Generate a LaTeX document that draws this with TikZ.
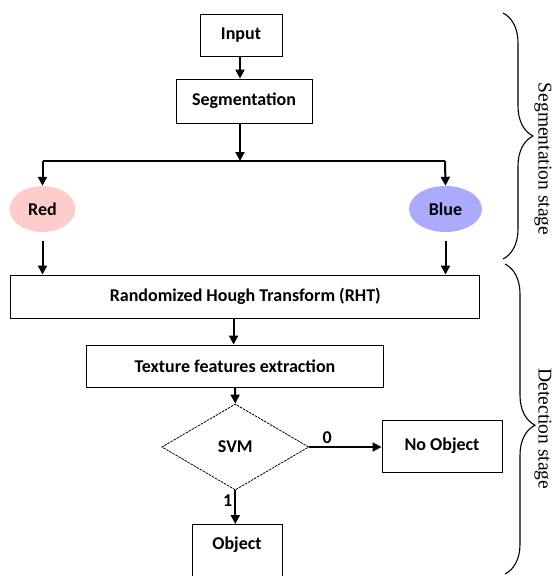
\documentclass[tikz,border=0pt]{standalone}
\usepackage{fontspec}
\setmainfont{Liberation Serif}
\newfontfamily\boxfont{Carlito}
\usetikzlibrary{shapes.geometric,arrows.meta,decorations.pathreplacing}
\begin{document}
\begin{tikzpicture}[x=1pt,y=-1pt]
	% formatos
	\tikzstyle{block} = [draw, line width=0.9pt, inner sep=0pt, font=\boxfont\bfseries\fontsize{18}{21}\selectfont]
	\tikzstyle{blob} = [ellipse, inner sep=0pt, minimum width=66pt, minimum height=46pt, font=\boxfont\bfseries\fontsize{18}{21}\selectfont]
	\tikzstyle{decision} = [diamond, draw, line width=0.8pt, dash pattern=on 2.5pt off 1pt, inner sep=0pt, aspect=1.7, minimum width=147pt, minimum height=86pt, font=\boxfont\bfseries\fontsize{18}{21}\selectfont]
	\tikzstyle{flow} = [-{Triangle[length=9pt,width=9pt]}, line width=2pt]
	\tikzstyle{tag} = [font=\boxfont\bfseries\fontsize{18}{21}\selectfont, inner sep=2pt]
	\tikzstyle{stagebrace} = [decorate, decoration={brace, amplitude=30pt}, line width=1.1pt]
	\tikzstyle{stagelabel} = [rotate=-90, inner sep=0pt, font=\fontsize{19.5}{23}\selectfont]
	\useasboundingbox (0,0) rectangle (555,576);
	% nodos
	\node [block, minimum width=82pt, minimum height=42pt] (input) at (241,35) {Input};
	\node [block, minimum width=136pt, minimum height=44pt] (seg) at (244,101) {Segmentation};
	\coordinate (split) at (240,161);
	\coordinate (splitL) at (42.5,161);
	\coordinate (splitR) at (445,161);
	\node [blob, fill={rgb,255:red,255;green,204;blue,204}] (red) at (42.5,209) {Red};
	\node [blob, fill={rgb,255:red,170;green,170;blue,255}, minimum width=73pt] (blue) at (445.5,209) {Blue};
	\node [block, minimum width=469pt, minimum height=43pt] (rht) at (245.3,296.5) {Randomized Hough Transform (RHT)};
	\node [block, minimum width=297pt, minimum height=42pt] (tex) at (235,366) {Texture features extraction};
	\node [decision] (svm) at (235.3,447) {SVM};
	\node [block, minimum width=120pt, minimum height=52pt] (noobj) at (442,446) {No Object};
	\node [block, minimum width=90pt, anchor=north, inner ysep=12pt, text depth=40pt] (obj) at (237,524) {Object};
	% relaciones
	\draw [flow] (input.south -| split) -- (split |- seg.north);
	\draw [flow] (seg.south -| split) -- (split);
	\draw [line width=1.6pt] (splitL) -- (splitR);
	\draw [flow] (splitL) -- (red.north);
	\draw [flow] (splitR) -- (blue.north);
	\draw [flow, shorten <=9pt] (red.south) -- (red.south |- rht.north);
	\draw [flow, shorten <=9pt] (blue.south) -- (blue.south |- rht.north);
	\draw [flow] (rht.south -| 233.6,0) -- (tex.north -| 233.6,0);
	\draw [flow] (tex.south) -- (svm.north);
	\draw [flow] (svm.east) -- node [tag, above, pos=0.25] {0} (svm.east -| noobj.west);
	\draw [flow] (svm.south) -- node [tag, left, pos=0.3] {1} (svm.south |- obj.north);
	% etapas
	\draw [stagebrace] (503,13) -- (503,259);
	\draw [stagebrace, decoration={aspect=0.52}] (505,264) -- (505,574);
	\node [stagelabel] (seglabel) at (543,159) {Segmentation stage};
	\node [stagelabel] (detlabel) at (543,429) {Detection stage};
\end{tikzpicture}
\end{document}
